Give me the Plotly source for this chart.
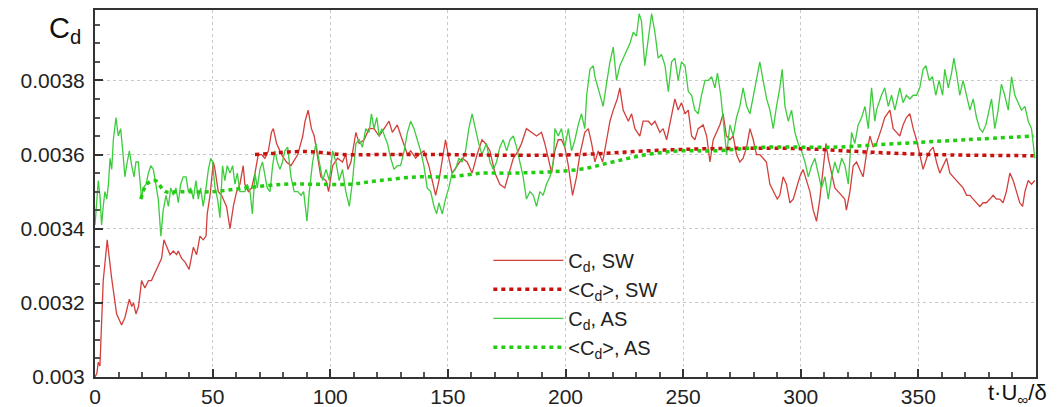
import plotly.graph_objects as go

# ---------------- data ----------------
t_sw = [0, 0.8, 1.4, 2.1, 3.5, 5.2, 7, 9.2, 11.3, 12.7, 14.6, 15.6, 16.4, 17.4, 18.5, 19.8, 21.2, 22.7, 24, 25.5,
        26.9, 28.3, 29.3, 30.6, 31.9, 33.3, 34.7, 35.4, 36.8, 38.3, 40, 41.8, 43.2, 44.6, 46, 47.2, 47.7, 48.9, 50.3, 51,
        52.4, 53.8, 55.9, 57.4, 58.8, 60.2, 61.6, 63, 63.7, 65.2, 66.6, 68, 69.4, 70.8, 72.2, 73.7, 75, 75.8, 77.2, 79.3,
        81.4, 83.3, 84.3, 86.2, 88.3, 89.3, 90.6, 92, 93.2, 94.6, 96, 98.2, 99.3, 101, 103.1, 105.2, 106.6, 107.5, 108.8, 110.9,
        112.3, 114.4, 116.5, 118.6, 120.8, 122.9, 125, 126.4, 128.5, 130.6, 132.8, 134.2, 136.3, 137.7, 139.8, 141.9, 143.4, 144.8, 146.2, 147.6,
        149, 150.4, 151.8, 154, 156.1, 158.2, 160.3, 162.4, 164.5, 166, 167.9, 170, 172.1, 174.2, 175.6, 177.8, 179.9, 181.3, 183.4, 185.6,
        187.7, 189.8, 191.2, 192.7, 194.1, 195.5, 196.9, 198.3, 199.7, 201.2, 203, 204.7, 206.1, 208.2, 209.7, 211.1, 212.5, 213.9, 215.8, 217.5,
        218.9, 220.3, 222, 223.1, 224.5, 226.7, 228.1, 229.5, 231.6, 233, 235.2, 236.6, 238, 240.1, 241.5, 243, 245.1, 246.5, 247.9, 249.3,
        250.8, 252.2, 253.6, 255, 256.4, 258.5, 260, 261.4, 262.8, 264.2, 265.6, 267, 268.4, 269.9, 271.3, 272.7, 274.1, 275.5, 277, 278.4,
        279.8, 281.2, 282.6, 284, 285.4, 286.9, 288.3, 290, 291.1, 292.5, 293.9, 295.4, 296.8, 298.2, 299.6, 301, 302.4, 303.9, 305.3, 306.7,
        308.1, 309.5, 310.7, 311.7, 313.1, 314.5, 315.9, 317.3, 318.7, 319.4, 320.9, 322.3, 323.7, 325.1, 326.5, 327.9, 329.4, 330.8, 332.2, 334.3,
        335.7, 337.9, 339.3, 340.7, 342.1, 343.5, 344.9, 346.4, 347.8, 349.2, 350.6, 352, 353.5, 354.9, 356.3, 357.7, 359.1, 360.5, 362, 363.4,
        364.8, 366.2, 367.6, 369, 370.5, 371.9, 373.3, 374.7, 376.1, 377.5, 378.9, 380.4, 381.8, 383.2, 384.6, 386, 387.4, 388.9, 390.3, 391.7,
        393.1, 394.3, 395.3, 396.7, 398.1, 399.5]
cd_sw = [0.00300, 0.00301, 0.00304, 0.00303, 0.00326, 0.00337, 0.00327, 0.00317, 0.00314, 0.00316, 0.00321, 0.00319, 0.00320, 0.00317, 0.00319, 0.00326, 0.00324, 0.00326, 0.00326, 0.00328,
         0.00330, 0.00332, 0.00337, 0.00335, 0.00333, 0.00334, 0.00333, 0.00334, 0.00332, 0.00331, 0.00329, 0.00335, 0.00333, 0.00338, 0.00337, 0.00338, 0.00344, 0.00349, 0.00358, 0.00356,
         0.00350, 0.00349, 0.00346, 0.00340, 0.00346, 0.00350, 0.00352, 0.00357, 0.00352, 0.00350, 0.00351, 0.00355, 0.00360, 0.00360, 0.00359, 0.00361, 0.00366, 0.00367, 0.00363, 0.00360,
         0.00358, 0.00357, 0.00358, 0.00360, 0.00365, 0.00369, 0.00372, 0.00367, 0.00365, 0.00359, 0.00354, 0.00353, 0.00350, 0.00357, 0.00359, 0.00358, 0.00360, 0.00356, 0.00358, 0.00366,
         0.00363, 0.00364, 0.00367, 0.00367, 0.00365, 0.00367, 0.00369, 0.00366, 0.00368, 0.00364, 0.00360, 0.00361, 0.00359, 0.00360, 0.00361, 0.00357, 0.00353, 0.00349, 0.00353, 0.00358,
         0.00364, 0.00359, 0.00355, 0.00357, 0.00359, 0.00358, 0.00355, 0.00360, 0.00364, 0.00363, 0.00361, 0.00355, 0.00352, 0.00351, 0.00354, 0.00359, 0.00361, 0.00363, 0.00367, 0.00366,
         0.00365, 0.00366, 0.00363, 0.00359, 0.00355, 0.00361, 0.00364, 0.00364, 0.00362, 0.00357, 0.00349, 0.00354, 0.00360, 0.00366, 0.00367, 0.00363, 0.00358, 0.00361, 0.00358, 0.00364,
         0.00369, 0.00372, 0.00375, 0.00378, 0.00372, 0.00369, 0.00371, 0.00367, 0.00365, 0.00369, 0.00369, 0.00368, 0.00369, 0.00366, 0.00367, 0.00364, 0.00371, 0.00375, 0.00372, 0.00374,
         0.00371, 0.00372, 0.00365, 0.00364, 0.00367, 0.00368, 0.00365, 0.00358, 0.00364, 0.00366, 0.00368, 0.00371, 0.00365, 0.00364, 0.00365, 0.00360, 0.00358, 0.00359, 0.00362, 0.00367,
         0.00364, 0.00360, 0.00360, 0.00359, 0.00358, 0.00352, 0.00350, 0.00348, 0.00349, 0.00354, 0.00352, 0.00347, 0.00348, 0.00351, 0.00354, 0.00356, 0.00353, 0.00350, 0.00345, 0.00342,
         0.00348, 0.00356, 0.00363, 0.00359, 0.00355, 0.00351, 0.00350, 0.00349, 0.00348, 0.00345, 0.00350, 0.00357, 0.00358, 0.00356, 0.00354, 0.00360, 0.00365, 0.00362, 0.00363, 0.00367,
         0.00370, 0.00372, 0.00367, 0.00366, 0.00365, 0.00368, 0.00370, 0.00371, 0.00367, 0.00364, 0.00360, 0.00356, 0.00359, 0.00361, 0.00362, 0.00358, 0.00355, 0.00357, 0.00359, 0.00355,
         0.00354, 0.00353, 0.00352, 0.00351, 0.00349, 0.00349, 0.00348, 0.00347, 0.00346, 0.00347, 0.00347, 0.00348, 0.00349, 0.00348, 0.00348, 0.00347, 0.00350, 0.00355, 0.00353, 0.00350,
         0.00347, 0.00346, 0.00350, 0.00353, 0.00352, 0.00353]

t_as = [0, 0.7, 1.4, 2.1, 2.8, 3.5, 4.2, 5.0, 5.7, 6.4, 7.1, 7.8, 8.9, 9.9, 10.9, 11.8, 12.7, 13.7, 14.6, 15.6,
        16.6, 17.4, 18.4, 19.1, 19.8, 20.5, 21.7, 22.7, 23.7, 24.8, 25.9, 26.9, 28, 29, 30.2, 31.2, 32.2, 33.3, 34.4, 35.4,
        36.4, 37.5, 38.7, 39.7, 40.7, 41.8, 42.9, 43.9, 44.9, 46, 47.2, 48.2, 49.2, 50, 51, 52.1, 53.1, 54.2, 55.2, 56.2,
        57.4, 58.5, 59.5, 60.5, 61.6, 62.7, 63.7, 64.7, 65.9, 66.9, 68, 69, 70.1, 71.2, 72.2, 73.2, 74.4, 75.5, 76.5, 77.5,
        78.6, 79.7, 80.7, 81.9, 83.3, 84.7, 86.2, 87.6, 88.7, 90.1, 91.1, 92.5, 93.9, 95.3, 96.8, 98.2, 99.6, 101, 102.4, 103.8,
        105.2, 106.6, 108.1, 109.5, 110.9, 112.3, 113.7, 115.1, 116.5, 117.5, 118.6, 119.8, 120.8, 121.9, 123.2, 124.3, 125.7, 127.1, 128.5, 129.9,
        131.4, 132.8, 134.2, 135.6, 137, 138.4, 139.8, 141.2, 142.7, 144.1, 145.2, 146.2, 147.6, 149, 150.4, 151.8, 153.2, 154.7, 156.1, 157.5,
        158.9, 160.3, 161.7, 163.1, 164.5, 166.4, 167.9, 169.3, 170.7, 172.1, 173.5, 175, 176.4, 177.8, 179.2, 180.6, 182, 183.4, 184.9, 186.3,
        187.7, 189.1, 190.5, 191.9, 193.4, 194.8, 195.5, 196.9, 198.3, 199.7, 201.2, 202.6, 204, 205.4, 206.8, 208.2, 209, 210.4, 211.8, 212.5,
        213.9, 216, 217.4, 218.9, 220.3, 221.7, 223.1, 224.5, 225.9, 227.4, 228.8, 230.2, 231.3, 232.3, 233.7, 235.2, 236.6, 238, 239.4, 240.8,
        242.3, 243.7, 245.1, 246.5, 247.9, 249.3, 250.8, 252.2, 253.6, 255, 256.4, 257.8, 259.3, 260.7, 262.1, 263.5, 264.6, 266, 267.5, 268.5,
        269.9, 271.3, 272.7, 274.1, 275.5, 277, 278.4, 279.8, 281.2, 282.6, 284, 285.5, 286.9, 288.3, 289.7, 291.1, 292.1, 293.3, 294.7, 296.1,
        297.5, 298.9, 300.3, 301.8, 303.2, 304.6, 306, 307.4, 308.8, 310.3, 311.7, 313.1, 314.5, 315.9, 317.4, 318.8, 320.2, 321.6, 323, 324.4,
        325.9, 327.3, 328.7, 330.1, 331.5, 332.2, 334.3, 335.7, 337.2, 338.6, 340, 342.1, 343.5, 344.9, 346.4, 347.8, 349.2, 350.6, 352, 353.2,
        354.6, 356, 357.4, 358.8, 360.3, 361.2, 362.7, 364.1, 365.1, 366.2, 367.6, 369, 370.5, 371.9, 373.3, 374.7, 376.1, 377.3, 378.7, 380.1,
        381.1, 382.5, 383.9, 385.3, 386.7, 388.2, 389.6, 391, 392.4, 393.8, 395.3, 396.7, 398.1, 399.5]
cd_as = [0.00341, 0.00348, 0.00353, 0.00349, 0.00341, 0.00346, 0.00350, 0.00348, 0.00352, 0.00359, 0.00356, 0.00364, 0.00370, 0.00365, 0.00367, 0.00361, 0.00354, 0.00358, 0.00361, 0.00357,
         0.00354, 0.00358, 0.00358, 0.00353, 0.00348, 0.00351, 0.00352, 0.00355, 0.00357, 0.00356, 0.00352, 0.00348, 0.00338, 0.00345, 0.00349, 0.00346, 0.00351, 0.00349, 0.00351, 0.00347,
         0.00352, 0.00354, 0.00354, 0.00350, 0.00351, 0.00348, 0.00353, 0.00348, 0.00351, 0.00346, 0.00351, 0.00356, 0.00359, 0.00358, 0.00351, 0.00348, 0.00343, 0.00357, 0.00353, 0.00357,
         0.00355, 0.00357, 0.00352, 0.00355, 0.00350, 0.00350, 0.00350, 0.00352, 0.00350, 0.00344, 0.00355, 0.00351, 0.00356, 0.00358, 0.00354, 0.00351, 0.00350, 0.00357, 0.00361, 0.00358,
         0.00356, 0.00358, 0.00361, 0.00362, 0.00354, 0.00350, 0.00350, 0.00349, 0.00350, 0.00342, 0.00350, 0.00358, 0.00363, 0.00358, 0.00353, 0.00356, 0.00353, 0.00361, 0.00358, 0.00353,
         0.00356, 0.00350, 0.00346, 0.00353, 0.00363, 0.00364, 0.00362, 0.00367, 0.00366, 0.00371, 0.00367, 0.00370, 0.00365, 0.00367, 0.00365, 0.00363, 0.00359, 0.00356, 0.00357, 0.00357,
         0.00361, 0.00366, 0.00369, 0.00367, 0.00364, 0.00361, 0.00357, 0.00351, 0.00350, 0.00346, 0.00344, 0.00347, 0.00344, 0.00348, 0.00351, 0.00355, 0.00356, 0.00359, 0.00358, 0.00361,
         0.00367, 0.00371, 0.00367, 0.00363, 0.00360, 0.00363, 0.00358, 0.00356, 0.00358, 0.00362, 0.00364, 0.00361, 0.00364, 0.00365, 0.00362, 0.00358, 0.00354, 0.00348, 0.00350, 0.00349,
         0.00346, 0.00350, 0.00349, 0.00352, 0.00354, 0.00358, 0.00367, 0.00365, 0.00367, 0.00362, 0.00367, 0.00361, 0.00364, 0.00368, 0.00371, 0.00367, 0.00376, 0.00383, 0.00384, 0.00381,
         0.00378, 0.00373, 0.00379, 0.00385, 0.00389, 0.00380, 0.00384, 0.00386, 0.00388, 0.00390, 0.00393, 0.00392, 0.00398, 0.00396, 0.00384, 0.00391, 0.00398, 0.00393, 0.00386, 0.00387,
         0.00384, 0.00377, 0.00385, 0.00386, 0.00380, 0.00385, 0.00384, 0.00377, 0.00376, 0.00372, 0.00371, 0.00376, 0.00380, 0.00380, 0.00381, 0.00378, 0.00382, 0.00376, 0.00367, 0.00360,
         0.00368, 0.00365, 0.00370, 0.00373, 0.00378, 0.00373, 0.00371, 0.00376, 0.00381, 0.00385, 0.00380, 0.00375, 0.00372, 0.00367, 0.00373, 0.00378, 0.00383, 0.00373, 0.00369, 0.00372,
         0.00366, 0.00363, 0.00361, 0.00358, 0.00354, 0.00357, 0.00359, 0.00355, 0.00351, 0.00354, 0.00348, 0.00354, 0.00358, 0.00355, 0.00359, 0.00357, 0.00352, 0.00366, 0.00363, 0.00368,
         0.00370, 0.00373, 0.00367, 0.00378, 0.00369, 0.00372, 0.00376, 0.00378, 0.00373, 0.00376, 0.00372, 0.00378, 0.00374, 0.00376, 0.00375, 0.00376, 0.00376, 0.00378, 0.00383, 0.00384,
         0.00380, 0.00381, 0.00376, 0.00380, 0.00376, 0.00383, 0.00378, 0.00382, 0.00386, 0.00382, 0.00376, 0.00380, 0.00376, 0.00372, 0.00375, 0.00370, 0.00367, 0.00366, 0.00368, 0.00372,
         0.00375, 0.00367, 0.00372, 0.00379, 0.00376, 0.00372, 0.00381, 0.00376, 0.00374, 0.00372, 0.00373, 0.00369, 0.00367, 0.00359]

t_sw_mean = [68, 75, 82, 90, 97, 105, 121, 150, 178, 206, 234, 263, 300, 328, 356, 399]
cd_sw_mean = [0.003600, 0.003603, 0.003607, 0.003608, 0.003605, 0.003600, 0.003600, 0.003600, 0.003598, 0.003600,
              0.003610, 0.003616, 0.003616, 0.003607, 0.003600, 0.003597]

t_as_mean = [19.5, 22, 25.5, 30, 36, 50, 64, 80, 93, 108, 121, 137, 150, 165, 178, 206, 220, 234.5, 248.6, 263,
             285, 314, 342, 370, 399]
cd_as_mean = [0.00348, 0.00352, 0.00353, 0.00350, 0.00350, 0.00350, 0.00351, 0.00352, 0.00352, 0.00352,
              0.00353, 0.00354, 0.00354, 0.00355, 0.00355, 0.00356, 0.00358, 0.00360, 0.00361, 0.00361,
              0.00362, 0.00362, 0.00363, 0.00364, 0.00365]

x_ticks = [0, 50, 100, 150, 200, 250, 300, 350]
y_ticks = [0.003, 0.0032, 0.0034, 0.0036, 0.0038]
y_ticklabels = ["0.003", "0.0032", "0.0034", "0.0036", "0.0038"]

names = ["C<sub>d</sub>, SW", "&lt;C<sub>d</sub>&gt;, SW", "C<sub>d</sub>, AS", "&lt;C<sub>d</sub>&gt;, AS"]

# ---------------- figure ----------------
FONT = "Arial, Liberation Sans, sans-serif"
fig = go.Figure()
fig.add_trace(go.Scatter(x=t_sw, y=cd_sw, mode="lines", name=names[0], legendrank=1,
                         line=dict(color="#d2403c", width=1.3)))
fig.add_trace(go.Scatter(x=t_as, y=cd_as, mode="lines", name=names[2], legendrank=3,
                         line=dict(color="#3ccc3c", width=1.3)))
fig.add_trace(go.Scatter(x=t_sw_mean, y=cd_sw_mean, mode="lines", name=names[1], legendrank=2,
                         line=dict(color="#c8100c", width=3.5, dash="4px,4px", shape="spline")))
fig.add_trace(go.Scatter(x=t_as_mean, y=cd_as_mean, mode="lines", name=names[3], legendrank=4,
                         line=dict(color="#22cc10", width=3.5, dash="4px,4px", shape="spline")))

axis_common = dict(
    automargin=False,
    showline=True, linecolor="#333333", linewidth=2, mirror=True,
    ticks="inside", ticklen=8, tickwidth=1.5, tickcolor="#333333",
    showgrid=True, gridcolor="#c8c8c8", griddash="dot", gridwidth=1,
    zeroline=False,
    tickfont=dict(family=FONT, size=21, color="#222222"),
)

fig.update_xaxes(range=[0, 400], tickvals=x_ticks,
                 minor=dict(dtick=10, ticks="inside", ticklen=5, tickcolor="#555555", showgrid=False),
                 **axis_common)
fig.update_yaxes(range=[0.003, 0.00399], tickvals=y_ticks, ticktext=y_ticklabels,
                 ticklabelstandoff=4,
                 minor=dict(dtick=0.00005, ticks="inside", ticklen=5, tickcolor="#555555", showgrid=False),
                 **axis_common)

fig.add_annotation(text="C<sub>d</sub>", xref="paper", yref="paper", x=-0.013, y=0.945,
                   xanchor="right", yanchor="middle", showarrow=False,
                   font=dict(family=FONT, size=29, color="#111111"))
fig.add_annotation(text="t·U<sub>∞</sub>/δ", xref="paper", yref="paper", x=0.98, y=0,
                   xanchor="center", yanchor="top", yshift=-1, showarrow=False,
                   font=dict(family=FONT, size=22, color="#111111"))

# the page places the figure 8 px in from the window's top-left corner
fig.update_layout(
    width=1049, height=399,
    margin=dict(l=87, r=21, t=2, b=30, autoexpand=False),
    paper_bgcolor="white", plot_bgcolor="white",
    showlegend=True,
    legend=dict(x=0.418, y=0.371, xanchor="left", yanchor="top",
                bgcolor="rgba(0,0,0,0)", itemwidth=70, tracegroupgap=0,
                font=dict(family=FONT, size=20, color="#222222")),
)

fig.write_html("out.html")
